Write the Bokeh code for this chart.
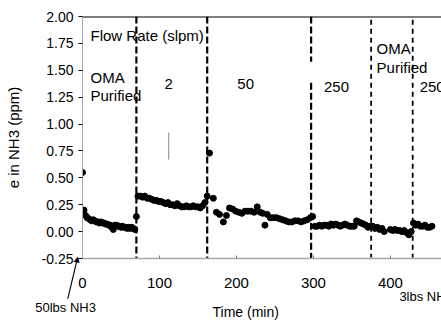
from bokeh.plotting import figure
from bokeh.models import Range1d, Label, Span, FixedTicker, NumeralTickFormatter, ColumnDataSource
from bokeh.embed import file_html
from bokeh.resources import INLINE
import math

# ---- data ----
t1 = [0, 2, 4, 6, 8, 10, 12, 14, 16, 18, 20, 22, 24, 26, 28, 30, 32, 34, 36, 38, 40, 42, 44, 46, 48, 50, 52, 54, 56, 58, 60, 62, 64, 66, 68, 70]
y1 = [0.55, 0.20, 0.15, 0.13, 0.12, 0.11, 0.10, 0.11, 0.10, 0.09, 0.09, 0.08, 0.09, 0.08, 0.08, 0.07, 0.07, 0.06, 0.06, 0.04, 0.02, 0.06, 0.06, 0.05, 0.05, 0.04, 0.05, 0.04, 0.04, 0.03, 0.04, 0.03, 0.04, 0.03, 0.02, 0.14]
t2 = [72, 75, 78, 81, 84, 87, 90, 93, 96, 99, 102, 105, 108, 111, 114, 117, 120, 123, 126, 129, 132, 135, 138, 141, 144, 147, 150, 153, 156, 159]
y2 = [0.33, 0.33, 0.32, 0.33, 0.31, 0.31, 0.30, 0.29, 0.29, 0.28, 0.28, 0.27, 0.26, 0.27, 0.25, 0.25, 0.24, 0.26, 0.24, 0.23, 0.23, 0.24, 0.23, 0.23, 0.24, 0.23, 0.23, 0.22, 0.24, 0.27]
t3 = [162, 165, 170, 174, 178, 183, 187, 191, 195, 199, 203, 207, 211, 215, 219, 223, 227, 231, 234, 237, 240, 244, 248, 252, 256, 260, 264, 268, 272, 276, 280, 284, 288, 292, 296]
y3 = [0.33, 0.73, 0.31, 0.18, 0.16, 0.09, 0.15, 0.22, 0.21, 0.19, 0.18, 0.17, 0.19, 0.19, 0.19, 0.18, 0.23, 0.18, 0.17, 0.06, 0.16, 0.13, 0.13, 0.13, 0.12, 0.11, 0.10, 0.09, 0.09, 0.10, 0.10, 0.09, 0.10, 0.11, 0.13]
t4 = [299, 302, 305, 308, 311, 314, 317, 320, 323, 326, 329, 332, 335, 338, 341, 344, 347, 350, 353, 356, 359, 362, 365, 368, 371, 374]
y4 = [0.14, 0.05, 0.05, 0.06, 0.05, 0.06, 0.06, 0.05, 0.07, 0.06, 0.07, 0.06, 0.05, 0.06, 0.07, 0.06, 0.05, 0.05, 0.05, 0.10, 0.09, 0.08, 0.07, 0.06, 0.04, 0.05]
t5 = [377, 380, 383, 386, 389, 392, 400, 403, 406, 409, 412, 415, 418, 421, 424, 427]
y5 = [0.05, 0.03, 0.04, 0.02, 0.03, 0.00, 0.02, 0.01, 0.02, 0.01, 0.01, 0.00, 0.01, -0.01, -0.03, 0.00]
t6 = [430, 433, 436, 439, 442, 445, 448, 451, 454]
y6 = [0.08, 0.06, 0.07, 0.05, 0.05, 0.06, 0.04, 0.04, 0.05]

change_times = [70, 162, 297, 375, 429]
y_ticks = [-0.25, 0.0, 0.25, 0.5, 0.75, 1.0, 1.25, 1.5, 1.75, 2.0]
x_ticks = [0, 100, 200, 300, 400]

times = t1 + t2 + t3 + t4 + t5 + t6
values = y1 + y2 + y3 + y4 + y5 + y6

FONT = "Liberation Sans"

p = figure(frame_width=361, frame_height=242, output_backend="svg", toolbar_location=None,
           x_range=Range1d(0, 469), y_range=Range1d(-0.25, 2.0),
           min_border_left=82, min_border_right=0, min_border_top=16, min_border_bottom=0)
p.grid.visible = False
p.outline_line_color = None
p.background_fill_color = "white"
p.border_fill_color = "white"

# axes
p.yaxis.ticker = FixedTicker(ticks=y_ticks)
p.yaxis.formatter = NumeralTickFormatter(format="0.00")
p.yaxis.axis_line_color = "#a8a8a8"
p.yaxis.major_tick_line_color = "black"
p.yaxis.major_tick_out = 4
p.yaxis.major_tick_in = 0
p.yaxis.minor_tick_line_color = None
p.yaxis.major_label_text_font = FONT
p.yaxis.major_label_text_font_size = "14px"
p.yaxis.major_label_text_color = "black"
p.yaxis.major_label_standoff = 5
p.yaxis.axis_label = "e in NH3 (ppm)"
p.yaxis.axis_label_text_font = FONT
p.yaxis.axis_label_text_font_size = "15px"
p.yaxis.axis_label_text_font_style = "normal"
p.yaxis.axis_label_text_color = "black"
p.yaxis.axis_label_standoff = 17

p.xaxis.ticker = FixedTicker(ticks=x_ticks)
p.xaxis.axis_line_color = "#a8a8a8"
p.xaxis.axis_line_width = 1.5
p.xaxis.major_tick_line_color = "#808080"
p.xaxis.major_tick_out = 0
p.xaxis.major_tick_in = 3
p.xaxis.minor_tick_line_color = None
p.xaxis.major_label_text_font = FONT
p.xaxis.major_label_text_font_size = "15px"
p.xaxis.major_label_text_color = "black"
p.xaxis.major_label_standoff = 19

# top border
p.add_layout(Span(location=2.0, dimension="width", line_color="black", line_width=2))

# vertical dashed lines
seg = ColumnDataSource(dict(
    x=[change_times[0], change_times[1], change_times[2], change_times[2]],
    y0=[2.0, 2.0, 2.0, 1.385], y1=[-0.25, -0.25, 1.58, -0.25]))
p.segment(x0="x", y0="y0", x1="x", y1="y1", source=seg, line_color="black",
          line_width=2.2, line_dash="7 3")
seg2 = ColumnDataSource(dict(x=[change_times[3], change_times[4]], y0=[1.97, 1.97], y1=[-0.24, -0.24]))
p.segment(x0="x", y0="y0", x1="x", y1="y1", source=seg2, line_color="black",
          line_width=1.8, line_dash="5 4")

# faint scan line
p.segment(x0=[112], y0=[0.92], x1=[112], y1=[0.67], line_color="#888888", line_width=1)

# data
p.scatter(times, values, size=6, color="black")

def lab(x, y, text, size="15px", align="left", place=None):
    l = Label(x=x, y=y, text=text, text_font=FONT, text_font_size=size,
              text_align=align, text_baseline="middle", text_color="black")
    if place:
        p.add_layout(l, place)
    else:
        p.add_layout(l)

lab(10.4, 1.82, "Flow Rate (slpm)")
lab(10.4, 1.43, "OMA")
lab(10.4, 1.27, "Purified")
lab(112, 1.37, "2", align="center")
lab(212, 1.37, "50", align="center")
lab(330, 1.34, "250", align="center")
lab(382, 1.70, "OMA")
lab(382, 1.53, "Purified")
lab(438, 1.34, "250")

lab(212, -0.75, "Time (min)", size="14px", align="center", place="below")
lab(-22, -0.71, "50lbs NH3", size="13px", align="center", place="below")
lab(411.7, -0.60, "3lbs NH3", size="13px", place="below")

# pointer from "50lbs NH3" to the start of the time axis (thin line + head)
p.add_layout(Label(x=-13, y=-0.44, text=" ", text_font_size="1px", text_align="center",
                   text_baseline="middle", angle=math.radians(76.6),
                   background_fill_color="black", padding=(20, 0)), "below")
p.add_layout(Label(x=-6.6, y=-0.255, text="\u25b2", text_font="DejaVu Sans",
                   text_font_size="8px", text_align="center", text_baseline="middle",
                   angle=math.radians(-13), text_color="black"), "below")

open("out.html", "w").write(file_html(p, INLINE))
